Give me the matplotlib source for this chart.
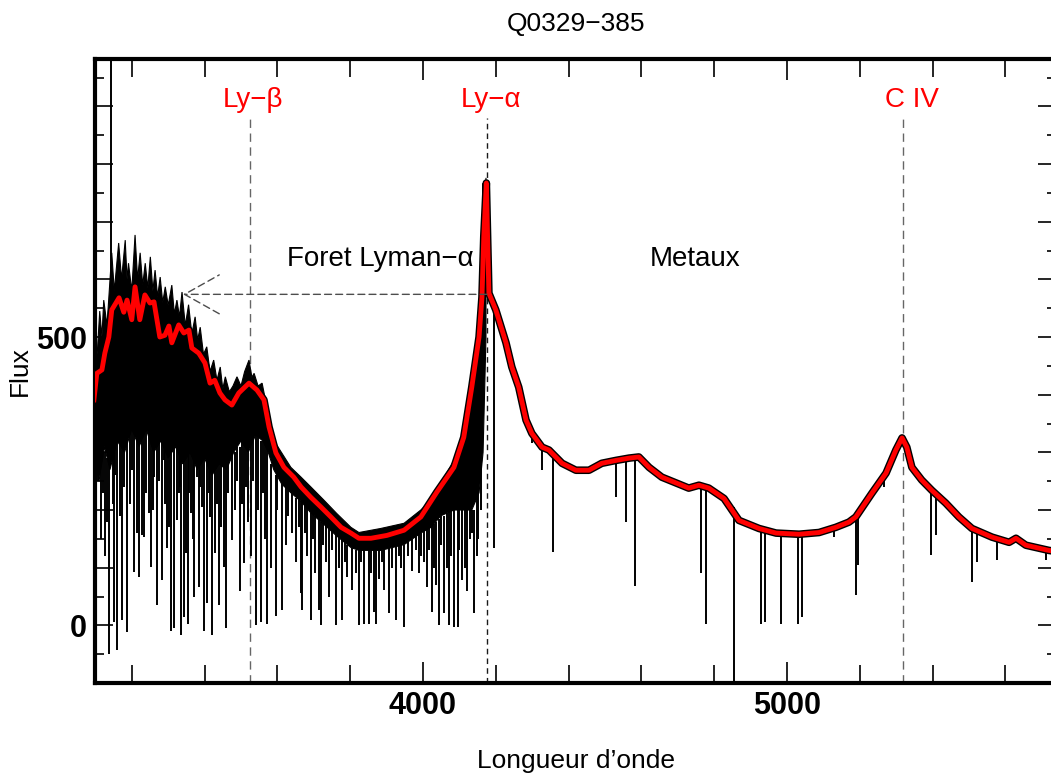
import matplotlib
matplotlib.use('Agg')
import matplotlib.pyplot as plt
from matplotlib.ticker import MultipleLocator
import numpy as np

plt.rcParams['font.family'] = ['Liberation Sans', 'DejaVu Sans']

# continuum fit (red curve)
cont_wl = [3096, 3104, 3118, 3126, 3137, 3145, 3165, 3178, 3187, 3200, 3209, 3222, 3236,
           3250, 3261, 3277, 3291, 3302, 3310, 3329, 3343, 3357, 3365, 3384, 3401, 3415,
           3428, 3442, 3456, 3475, 3494, 3522, 3544, 3563, 3577, 3596, 3618, 3645, 3665,
           3692, 3720, 3747, 3775, 3802, 3824, 3857, 3901, 3948, 3994, 4038, 4085, 4112,
           4134, 4154, 4162, 4167, 4174, 4181, 4200, 4228, 4244, 4263, 4283, 4299,
           4327, 4346, 4382, 4420, 4456, 4491, 4530, 4566, 4593, 4621, 4656, 4695, 4730,
           4758, 4785, 4827, 4868, 4923, 4970, 5033, 5088, 5134, 5170, 5189, 5233, 5272,
           5299, 5316, 5329, 5343, 5370, 5398, 5436, 5472, 5508, 5563, 5610, 5629, 5656,
           5719, 5740]
cont_flux = [391, 437, 443, 472, 500, 547, 568, 543, 564, 530, 587, 530, 573,
             559, 561, 500, 503, 519, 490, 521, 507, 512, 481, 472, 455, 420,
             425, 403, 391, 382, 403, 420, 408, 391, 344, 299, 274, 257, 240,
             222, 205, 188, 170, 160, 151, 151, 156, 165, 188, 231, 274, 326,
             413, 500, 569, 674, 767, 576, 547, 490, 448, 413, 356, 333,
             309, 304, 281, 269, 269, 281, 286, 290, 292, 274, 257, 247, 238,
             243, 238, 220, 182, 168, 160, 158, 161, 170, 179, 188, 229, 264,
             304, 325, 309, 274, 252, 234, 212, 188, 168, 153, 144, 151, 139,
             130, 128]

# Lyman alpha forest: upper edge and lower edge of the dense absorbed spectrum
forest_hi_wl = [3096, 3105, 3112, 3118, 3123, 3132, 3145, 3152, 3164, 3172, 3182, 3187,
                3191, 3200, 3209, 3216, 3223, 3230, 3237, 3244, 3251, 3258, 3264, 3271,
                3278, 3285, 3292, 3300, 3310, 3317, 3324, 3331, 3338, 3347, 3356, 3365,
                3374, 3381, 3388, 3397, 3406, 3415, 3425, 3434, 3443, 3450, 3457, 3468,
                3478, 3489, 3500, 3510, 3522, 3530, 3536, 3547, 3558, 3571, 3590, 3612,
                3637, 3665, 3692, 3728, 3763, 3802, 3824, 3884, 3948, 3994, 4022, 4049,
                4085, 4112, 4134, 4154, 4165, 4173]
forest_hi = [520, 470, 545, 500, 564, 520, 646, 580, 663, 600, 668, 600,
             628, 580, 677, 600, 646, 590, 628, 585, 639, 580, 616, 570,
             604, 560, 587, 555, 590, 540, 564, 535, 578, 520, 556, 505,
             535, 495, 517, 470, 483, 440, 460, 425, 448, 410, 431, 405,
             415, 431, 415, 440, 460, 430, 437, 415, 420, 379, 321, 299,
             274, 257, 240, 217, 194, 170, 161, 168, 177, 200, 217, 247,
             286, 320, 400, 490, 600, 776]
forest_lo_wl = [3096, 3110, 3125, 3140, 3160, 3180, 3200, 3220, 3240, 3260, 3280, 3300,
                3320, 3340, 3360, 3380, 3400, 3420, 3440, 3460, 3480, 3500, 3520, 3540,
                3560, 3575, 3590, 3612, 3637, 3665, 3692, 3728, 3763, 3802, 3824, 3884,
                3948, 3994, 4022, 4049, 4085, 4112, 4134, 4154, 4165, 4173]
forest_lo = [300, 250, 310, 270, 320, 300, 340, 310, 340, 300, 320, 290,
             310, 280, 300, 270, 290, 260, 280, 270, 300, 320, 300, 330,
             320, 300, 270, 245, 230, 215, 195, 175, 155, 135, 130, 130,
             140, 160, 170, 190, 200, 200, 200, 230, 300, 500]

# absorption lines: wavelength, bottom, top
abs_wl = [3100, 3108, 3115, 3120, 3126, 3131, 3137, 3143, 3148, 3151, 3155, 3159, 3167,
          3173, 3178, 3187, 3195, 3200, 3206, 3214, 3220, 3228, 3233, 3240, 3247, 3253,
          3257, 3261, 3269, 3275, 3283, 3288, 3292, 3297, 3302, 3308, 3316, 3324, 3329,
          3333, 3335, 3343, 3349, 3354, 3358, 3362, 3367, 3371, 3379, 3384, 3388, 3393,
          3398, 3406, 3411, 3415, 3420, 3428, 3433, 3439, 3445, 3453, 3459, 3465, 3475,
          3483, 3490, 3497, 3503, 3508, 3514, 3519, 3527, 3533, 3541, 3548, 3555, 3560,
          3566, 3571, 3582, 3596, 3600, 3612, 3623, 3630, 3640, 3651, 3658, 3665, 3667,
          3675, 3681, 3692, 3698, 3703, 3714, 3720, 3725, 3733, 3742, 3750, 3761, 3769,
          3777, 3785, 3791, 3805, 3816, 3824, 3830, 3838, 3851, 3858, 3865, 3871, 3879,
          3886, 3893, 3906, 3915, 3926, 3934, 3940, 3948, 3960, 3970, 3980, 3989, 3995,
          4003, 4011, 4017, 4024, 4030, 4036, 4044, 4050, 4057, 4066, 4071, 4078, 4085,
          4096, 4100, 4107, 4115, 4121, 4129, 4135, 4140, 4148, 4152, 4159,
          4196, 4299, 4327, 4357, 4530, 4557, 4582, 4763, 4777, 4854, 4928, 4939, 4983,
          5030, 5041, 5129, 5189, 5195, 5266, 5395, 5409, 5508, 5522, 5577, 5711]
abs_bot = [200, 250, 150, 230, 120, 180, -49, 300, 210, 5, 260, -43, 190,
           9, 240, -12, 210, 270, 92, 160, 83, 156, 153, 230, 194, 101,
           200, 257, 35, 250, 78, 286, 210, 135, 170, -9, -5, 182, 229,
           240, -17, 14, 125, 3, 230, 194, 150, 49, 257, 66, 240, 205,
           -9, 38, 230, 188, -17, 125, 210, 35, 170, 101, -5, 230, 148,
           200, 250, 60, 210, 108, 240, 180, 120, 250, 0, 200, 5, 230,
           150, 3, 100, 17, 200, 26, 140, 190, 160, 110, 170, 56, 26,
           160, 120, 9, 150, 90, 26, 0, 140, 110, 49, 130, 0, 100,
           9, 110, 83, 61, 90, 0, 110, 3, 3, 90, 23, 3, 80,
           110, 61, 21, 100, 9, 120, 100, -3, 120, 95, 130, 90, 120,
           110, 66, 130, 23, 100, 70, 0, 140, 21, 100, 0, 120, -2,
           -3, 130, 78, 100, 60, 150, 160, 21, 120, 150, 200,
           134, 316, 269, 127, 222, 179, 69, 90, 3, -130, 3, 5, 3,
           3, 14, 153, 52, 104, 240, 122, 156, 75, 109, 113, 113]
abs_top = [300, 300, 300, 300, 300, 290, 300, 1000, 300, 300, 320, 320, 330,
           330, 340, 340, 350, 350, 360, 350, 340, 350, 350, 350, 340, 340,
           340, 330, 330, 330, 320, 320, 320, 320, 310, 310, 310, 310, 310,
           300, 300, 300, 300, 300, 300, 300, 300, 300, 300, 300, 290, 290,
           290, 290, 290, 290, 290, 290, 290, 290, 290, 290, 290, 290, 300,
           300, 310, 310, 320, 320, 330, 330, 330, 330, 330, 330, 320, 320,
           320, 310, 280, 260, 260, 245, 240, 235, 230, 220, 220, 215, 215,
           210, 205, 195, 195, 190, 185, 180, 178, 175, 170, 165, 160, 155,
           150, 145, 140, 135, 130, 130, 130, 130, 130, 130, 130, 130, 130,
           130, 135, 135, 135, 140, 140, 140, 140, 145, 150, 155, 160, 160,
           165, 170, 170, 175, 175, 180, 185, 190, 190, 195, 200, 200, 200,
           200, 200, 200, 200, 200, 200, 200, 200, 230, 230, 280,
           560, 340, 310, 300, 285, 288, 290, 240, 238, 205, 168, 166, 160,
           158, 158, 170, 188, 190, 260, 235, 228, 168, 165, 152, 132]

# emission lines
line_names = ['Ly\u2212\u03b2', 'Ly\u2212\u03b1', 'C IV']
line_wl = [3525, 4176, 5319]
label_wl = [3533, 4187, 5343]

fig = plt.figure(figsize=(10.51, 7.73), dpi=100)
ax = fig.add_axes([0.0904, 0.1164, 0.9144, 0.8072])

# marker lines for the emission lines
for i in range(len(line_wl)):
    col = '0.1' if i == 1 else '0.4'
    dash = (4, 3) if i == 1 else (6, 4)
    ax.plot([line_wl[i], line_wl[i]], [-100, 879], color=col, lw=1, dashes=dash, zorder=1)
    ax.text(label_wl[i], 899, line_names[i], color='red', fontsize=20, ha='center',
            va='baseline', zorder=6)

# spectrum
ax.fill(np.concatenate([forest_hi_wl, forest_lo_wl[::-1]]),
        np.concatenate([forest_hi, forest_lo[::-1]]), color='black', lw=0.8, zorder=2)
ax.vlines(abs_wl, abs_bot, abs_top, color='black', lw=1.4, zorder=2)
ax.plot(cont_wl, cont_flux, color='black', lw=5.5, zorder=3)
ax.plot(cont_wl, cont_flux, color='red', lw=3.5, zorder=4)

# forest arrow
ax.annotate('', xy=(3341, 574), xytext=(4176, 574),
            arrowprops=dict(arrowstyle='->,head_length=2.5,head_width=1.4', mutation_scale=10,
                            color='0.3', lw=1, ls=(0, (5, 3)), shrinkA=0, shrinkB=0),
            zorder=5)
ax.text(3626, 624, 'Foret Lyman\u2212\u03b1', fontsize=20, ha='left', va='baseline')
ax.text(4624, 624, 'Metaux', fontsize=20, ha='left', va='baseline')

ax.set_xlim(3099, 5739)
ax.set_ylim(-100, 982)

ax.set_xticks([4000, 5000], labels=['4000', '5000'], fontweight='bold', fontsize=22)
ax.xaxis.set_minor_locator(MultipleLocator(200))
yt = list(range(-100, 1000, 100))
ax.set_yticks(yt, labels=[str(v) if v in (0, 500) else '' for v in yt],
              fontweight='bold', fontsize=22)
ax.yaxis.set_minor_locator(MultipleLocator(50))

ax.tick_params(which='both', direction='in', top=True, right=True, width=1.2)
ax.tick_params(axis='x', which='major', length=15, pad=6)
ax.tick_params(axis='x', which='minor', length=13)
ax.tick_params(axis='y', which='major', length=13, pad=6)
ax.tick_params(axis='y', which='minor', length=6.5)
for s in ax.spines.values():
    s.set_linewidth(3)

ax.set_title('Q0329\u2212385', fontsize=19, pad=20)
ax.set_xlabel('Longueur d\u2019onde', fontsize=19, labelpad=20)
ax.set_ylabel('Flux', fontsize=19, labelpad=3)

fig.savefig('out.png', dpi=100)
